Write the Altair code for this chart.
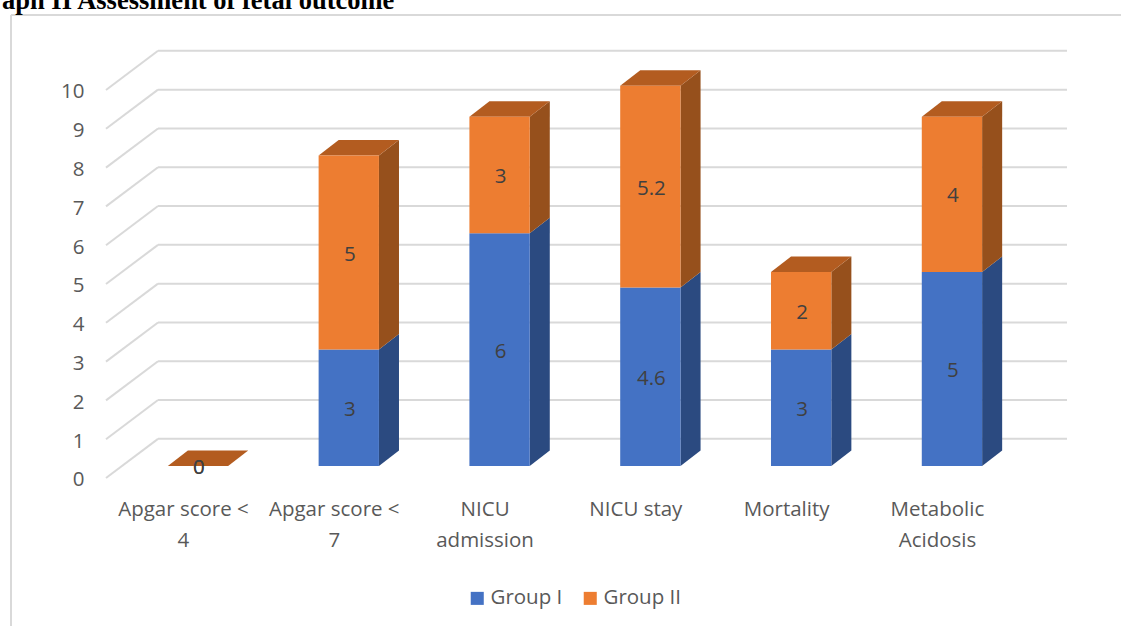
import json

import altair as alt
import pandas as pd

# Chart values
categories = ["Apgar score < 4", "Apgar score < 7", "NICU admission", "NICU stay", "Mortality", "Metabolic Acidosis"]
axis_lines = [["Apgar score <", "4"], ["Apgar score <", "7"], ["NICU", "admission"], ["NICU stay"], ["Mortality"], ["Metabolic", "Acidosis"]]
group_1 = [0, 3, 6, 4.6, 3, 5]
group_2 = [0, 5, 3, 5.2, 2, 4]
series_names = ["Group I", "Group II"]
y_ticks = list(range(11))

# Pseudo-3D geometry in data units (categories on x, score on y)
BAR_HALF = 0.2
DEPTH_X = 0.133
DEPTH_Y = 0.4
WALL_BACK_X = -0.265
WALL_FRONT_X = -0.61
WALL_RIGHT_X = 5.763
WALL_BACK_Y = 0.7
WALL_FRONT_Y = -0.31

FONT = "Open Sans"
FONT_SIZE = 20.5
GREY_TEXT = "#595959"
GRID = "#D9D9D9"

x_scale = alt.Scale(domain=[WALL_FRONT_X, WALL_RIGHT_X], nice=False, zero=False)
y_scale = alt.Scale(domain=[-0.6186, 10.979], nice=False, zero=False)
color_scale = alt.Scale(domain=series_names, range=["#4472C4", "#ED7D31"])

# Front faces, one row per stacked segment
fronts, sides, tops, labels = [], [], [], []
for i, (a, b) in enumerate(zip(group_1, group_2)):
    for name, low, high in ((series_names[0], 0, a), (series_names[1], a, a + b)):
        left, right = i - BAR_HALF, i + BAR_HALF
        fronts.append({"series": name, "x": left, "x2": right, "y": low, "y2": high})
        labels.append({"x": float(i), "y": (low + high) / 2, "value": high - low})
        face = f"{i}-{name}"
        sides.append({"face": face, "series": name, "x": right, "y": low, "y2": high})
        sides.append({"face": face, "series": name, "x": right + DEPTH_X, "y": low + DEPTH_Y, "y2": high + DEPTH_Y})
    top = a + b
    left, right = i - BAR_HALF, i + BAR_HALF
    tops += [
        {"face": i, "x": left, "y": top, "y2": top},
        {"face": i, "x": left + DEPTH_X, "y": top + DEPTH_Y, "y2": top},
        {"face": i, "x": right, "y": top + DEPTH_Y, "y2": top},
        {"face": i, "x": right + DEPTH_X, "y": top + DEPTH_Y, "y2": top + DEPTH_Y},
    ]

fronts = pd.DataFrame(fronts)
sides = pd.DataFrame(sides)
tops = pd.DataFrame(tops)
labels = pd.DataFrame(labels)

back_grid = pd.DataFrame([
    {"x": WALL_BACK_X, "x2": WALL_RIGHT_X, "y": t + WALL_BACK_Y, "y2": t + WALL_BACK_Y} for t in y_ticks
])
wall_grid = pd.DataFrame([
    {"x": WALL_FRONT_X, "x2": WALL_BACK_X, "y": t + WALL_FRONT_Y, "y2": t + WALL_BACK_Y} for t in y_ticks
])

X = alt.X("x:Q", scale=x_scale, title=None)
Y = alt.Y("y:Q", scale=y_scale, title=None, stack=None)


def grid_layer(frame):
    return alt.Chart(frame).mark_rule(color=GRID, strokeWidth=2).encode(
        x=alt.X("x:Q", scale=x_scale, title=None),
        x2="x2:Q",
        y=alt.Y("y:Q", scale=y_scale, title=None),
        y2="y2:Q",
    )


def side_layer(name, colour):
    return alt.Chart(sides[sides["series"] == name]).mark_area(color=colour, interpolate="linear").encode(
        x=X, y=Y, y2="y2:Q", detail="face:N"
    )


# Axes carry the tick labels; the plot's own grid is replaced by the drawn walls
axis_layer = alt.Chart(pd.DataFrame({"x": list(range(len(categories))), "y": [0] * len(categories)})).mark_point(opacity=0).encode(
    x=alt.X(
        "x:Q",
        scale=x_scale,
        title=None,
        axis=alt.Axis(
            values=list(range(len(categories))),
            labelExpr=json.dumps(axis_lines).replace('"', "'") + "[datum.value]",
            grid=False, domain=False, ticks=False,
            labelOffset=-15, labelPadding=9, labelOverlap=False, labelFlush=False,
            labelFont=FONT, labelFontSize=FONT_SIZE, labelColor=GREY_TEXT, labelLineHeight=31.5,
            labelBaseline="top",
        ),
    ),
    y=alt.Y(
        "y:Q",
        scale=y_scale,
        title=None,
        axis=alt.Axis(
            values=y_ticks, grid=False, domain=False, ticks=False,
            labelOffset=14, labelPadding=22, labelOverlap=False, labelFlush=False,
            labelFont=FONT, labelFontSize=FONT_SIZE, labelColor=GREY_TEXT,
        ),
    ),
)

front_layer = alt.Chart(fronts).mark_bar().encode(
    x=alt.X("x:Q", scale=x_scale, title=None),
    x2="x2:Q",
    y=alt.Y("y:Q", scale=y_scale, title=None),
    y2="y2:Q",
    color=alt.Color(
        "series:N",
        scale=color_scale,
        legend=alt.Legend(
            title=None, orient="none", direction="horizontal", legendX=361, legendY=548,
            symbolType="square", symbolSize=170, symbolStrokeWidth=0, columnPadding=17,
            labelFont=FONT, labelFontSize=FONT_SIZE, labelColor=GREY_TEXT, labelOffset=3,
        ),
    ),
)

top_layer = alt.Chart(tops).mark_area(color="#B35C20", interpolate="linear").encode(
    x=X, y=Y, y2="y2:Q", detail="face:N"
)

value_layer = alt.Chart(labels).mark_text(
    font=FONT, fontSize=FONT_SIZE, color="#404040", baseline="middle", dx=1, dy=2
).encode(
    x=alt.X("x:Q", scale=x_scale, title=None),
    y=alt.Y("y:Q", scale=y_scale, title=None),
    text=alt.Text("value:Q", format="~g"),
)

# Page furniture: the caption cut by the page edge and the frame around the figure
caption = alt.Chart(pd.DataFrame({"t": ["aph II Assessment of fetal outcome"]})).mark_text(
    font="Liberation Serif", fontSize=26.5, fontWeight="bold", color="black", align="left", baseline="alphabetic"
).encode(x=alt.value(-104), y=alt.value(-31), text="t:N")

frame_top = alt.Chart(pd.DataFrame({"k": [0]})).mark_rule(color=GRID, strokeWidth=2).encode(
    x=alt.value(-95), x2=alt.value(1015), y=alt.value(-25)
)
frame_left = alt.Chart(pd.DataFrame({"k": [0]})).mark_rule(color=GRID, strokeWidth=2).encode(
    x=alt.value(-95), y=alt.value(-25), y2=alt.value(586)
)

chart = alt.layer(
    frame_top,
    frame_left,
    caption,
    grid_layer(wall_grid),
    grid_layer(back_grid),
    axis_layer,
    side_layer(series_names[0], "#2B4A80"),
    side_layer(series_names[1], "#96501C"),
    top_layer,
    front_layer,
    value_layer,
).properties(
    width=961,
    height=450,
    background="white",
    autosize="none",
    padding={"left": 106, "top": 40, "right": 54, "bottom": 136},
).configure_view(stroke=None, strokeWidth=0)

chart.save("out.html", embed_options={"renderer": "svg", "actions": False})
